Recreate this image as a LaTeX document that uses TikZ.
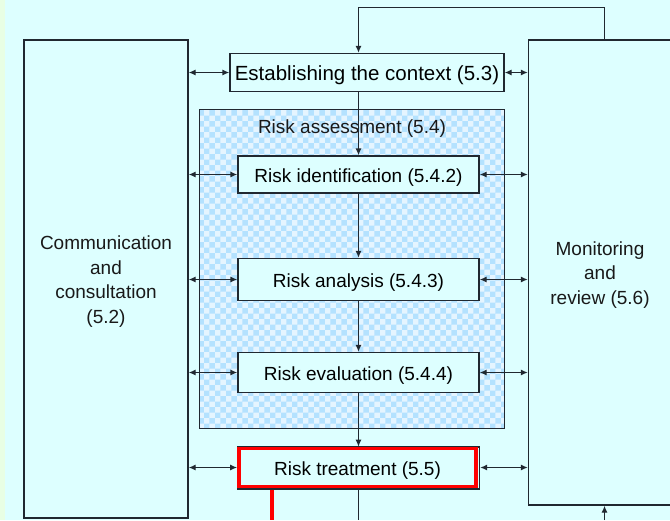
\documentclass[tikz,border=0pt]{standalone}
\usepackage{fontspec}
\setmainfont{Liberation Sans}
\usetikzlibrary{arrows.meta,patterns}
\definecolor{bgc}{HTML}{DDFFFF}
\definecolor{strip}{HTML}{E8FFE4}
\definecolor{chk}{HTML}{B4E2FF}
\definecolor{ln}{HTML}{202830}
\tikzset{
  txt/.style={font=\fontsize{19}{24.7}\selectfont,align=center,text=black!90},
  box/.style={draw=ln,line width=1.3pt,fill=bgc,rectangle,inner sep=0pt,align=center,font=\fontsize{19}{24.7}\selectfont,text height=19pt,text depth=4pt},
  arr/.style={draw=ln,line width=1.3pt,-{Latex[length=7pt,width=6pt]}},
  darr/.style={draw=ln,line width=1.3pt,{Latex[length=7pt,width=6pt]}-{Latex[length=7pt,width=6pt]}},
  plain/.style={draw=ln,line width=1.3pt}
}
\begin{document}
\begin{tikzpicture}[x=1pt,y=-1pt]
\useasboundingbox (0,0) rectangle (670,520);
\clip (0,0) rectangle (670,520);
\fill[bgc] (0,0) rectangle (670,520);
\fill[strip] (0,0) rectangle (5,520);
% assessment frame
\node[rectangle,inner sep=0pt,minimum width=304,minimum height=318,fill=chk!35!white] (assess) at (352,269) {};
\fill[pattern=checkerboard,pattern color=chk] (assess.north west) rectangle (assess.south east);
\draw[plain] (assess.north west) rectangle (assess.south east);
\node[txt] (atitle) at (352,128.5) {Risk assessment (5.4)};
% side boxes
\node[box,minimum width=164,minimum height=478] (left) at (106,279) {};
\node[txt] (ltext) at (106,281.5) {Communication\\and\\consultation\\(5.2)};
\node[box,minimum width=152,minimum height=465] (right) at (604.5,272.5) {};
\node[txt] (rtext) at (600,275) {Monitoring\\and\\review (5.6)};
% process boxes
\node[box,minimum width=274,minimum height=38,font=\fontsize{20.5}{24}\selectfont] (ctx) at (367,72.5) {Establishing the context (5.3)};
\node[box,minimum width=241,minimum height=37] (ident) at (358.5,174.5) {Risk identification (5.4.2)};
\node[box,minimum width=241,minimum height=42] (anal) at (358.5,279.5) {Risk analysis (5.4.3)};
\node[box,minimum width=241,minimum height=40] (eval) at (358.5,372.5) {Risk evaluation (5.4.4)};
\node[draw=ln,line width=1.3pt,minimum width=242,minimum height=42,inner sep=0pt] (tshadow) at (358.5,468) {};
\node[box,draw=red,line width=3.6pt,minimum width=237,minimum height=38] (treat) at (357.5,467.5) {Risk treatment (5.5)};
% vertical flow
\draw[arr] (ctx.south -| ident.north) -- (ident.north);
\draw[arr] (ident.south) -- (anal.north);
\draw[arr] (anal.south) -- (eval.north);
\draw[arr] (eval.south) -- (treat.north -| eval.south);
\coordinate (downend) at (358.5,520);
\draw[plain] (tshadow.south -| downend) -- (downend);
\coordinate (redend) at (272,520);
\draw[red,line width=3.8pt] (tshadow.south -| redend) -- (redend);
% feedback loop
\draw[arr] (right.north) -- ++(0,-32) -| (ctx.north -| ident.north);
\coordinate (botin) at (604.5,520);
\draw[arr] (botin) -- (right.south);
% horizontal double arrows
\foreach \n in {ctx,ident,anal,eval} {
  \draw[darr] (left.east |- \n.west) -- (\n.west);
  \draw[darr] (\n.east) -- (right.west |- \n.east);
}
\draw[darr] (left.east |- treat.west) -- (treat.west);
\draw[darr] (tshadow.east |- treat.east) -- (right.west |- treat.east);
\end{tikzpicture}
\end{document}
